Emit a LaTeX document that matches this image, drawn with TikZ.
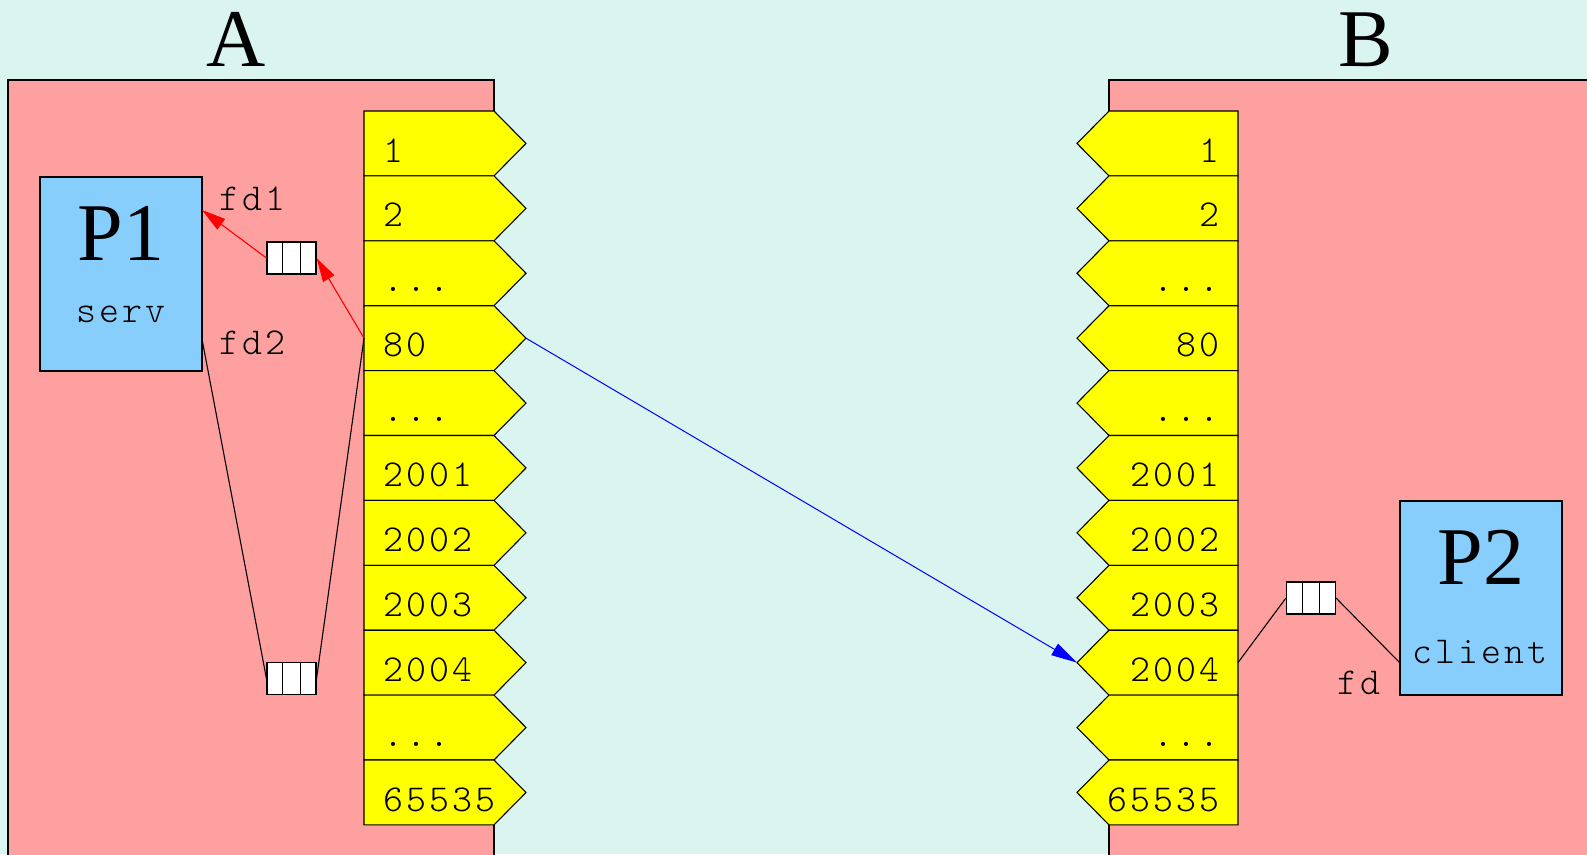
\documentclass[tikz,border=0pt]{standalone}
\usepackage{fontspec}
\setmainfont{Liberation Serif}
\newfontfamily\cellfont[LetterSpace=8]{Latin Modern Mono Light}
\usetikzlibrary{arrows.meta}
\definecolor{bgc}{HTML}{DAF5F0}
\definecolor{pinkc}{HTML}{FFA0A0}
\definecolor{cellc}{HTML}{FFFF00}
\definecolor{procc}{HTML}{88CEFC}
\newcommand\tdots{...}
\begin{document}
\begin{tikzpicture}[x=1pt,y=-1pt]
\tikzset{
 border/.style={draw=black,line width=1.1pt},
 ttlab/.style={font={\cellfont\fontsize{38}{38}\selectfont}, inner sep=0pt},
 biglab/.style={font={\fontsize{82}{82}\selectfont}, inner sep=0pt},
 proc/.style={border, fill=procc},
 host/.style={border, fill=pinkc},
 portcell/.style={border, fill=cellc},
 queue/.style={draw, line width=1.1pt, fill=white, minimum width=49pt, minimum height=32pt, inner sep=0pt},
 redarrow/.style={draw=red, line width=1.1pt, -{Triangle[length=24pt,width=13pt]}},
 bluearrow/.style={draw=blue, line width=1pt, -{Triangle[length=26pt,width=13pt]}},
 wire/.style={draw=black, line width=1.1pt},
}
\useasboundingbox (0,0) rectangle (1587,854);
\fill[bgc] (0,0) rectangle (1587,854);
\begin{scope}
\clip (0,0) rectangle (1587,854);
% hosts
\path[host] (8,80) rectangle (494,870);
\path[host] (1109,80) rectangle (1600,870);
% port cells
\foreach \lab [count=\i from 0] in {1,2,\tdots,80,\tdots,2001,2002,2003,2004,\tdots,65535}{
  \pgfmathsetmacro\t{111+\i*64.9}
  \pgfmathsetmacro\m{\t+32.45}
  \pgfmathsetmacro\b{\t+64.9}
  \path[portcell] (364,\t) -- (494,\t) -- (526,\m) -- (494,\b) -- (364,\b) -- cycle;
  \path[portcell] (1238,\t) -- (1109,\t) -- (1077,\m) -- (1109,\b) -- (1238,\b) -- cycle;
  \node[ttlab, anchor=base west] (a\i) at (383,\t+51) {\lab};
  \node[ttlab, anchor=base east] (b\i) at (1220,\t+51) {\lab};
}
\end{scope}
% titles
\node[biglab, anchor=base] (tA) at (236,66) {A};
\node[biglab, anchor=base] (tB) at (1366,66) {B};
% processes
\path[proc] (40,177) rectangle (202,371);
\node[biglab, anchor=base] (p1) at (121,260) {P1};
\node[ttlab, anchor=base] (serv) at (121,322) {serv};
\path[proc] (1400,501) rectangle (1562,695);
\node[biglab, anchor=base] (p2) at (1481,584) {P2};
\node[ttlab, anchor=base] (client) at (1480,663) {client};
% fd labels
\node[ttlab, anchor=base west] (fd1) at (219,210) {fd1};
\node[ttlab, anchor=base west] (fd2) at (219,354) {fd2};
\node[ttlab, anchor=base west] (fd) at (1337,694) {fd};
% queues
\foreach \q/\x/\y in {q1/291.5/258, q2/291.5/678.5, q3/1311/598}{
  \node[queue] (\q) at (\x,\y) {};
  \draw[line width=1.1pt] ([xshift=16.33pt]\q.north west) -- ([xshift=16.33pt]\q.south west);
  \draw[line width=1.1pt] ([xshift=-16.33pt]\q.north east) -- ([xshift=-16.33pt]\q.south east);
}
% connection points
\coordinate (p1fd1) at (202,210);
\coordinate (p1fd2) at (202,339);
\coordinate (a80w) at (364,338.2);
\coordinate (a80tip) at (526,338.2);
\coordinate (b2004tip) at (1077,662.6);
\coordinate (b2004e) at (1238,662.6);
\coordinate (p2fd) at (1400,663);
% connectors
\draw[redarrow] (q1.west) -- (p1fd1);
\draw[redarrow] (a80w) -- (q1.east);
\draw[wire] (p1fd2) -- (q2.west);
\draw[wire] (q2.east) -- (a80w);
\draw[bluearrow] (a80tip) -- (b2004tip);
\draw[wire] (b2004e) -- (q3.west);
\draw[wire] (q3.east) -- (p2fd);
\end{tikzpicture}
\end{document}
